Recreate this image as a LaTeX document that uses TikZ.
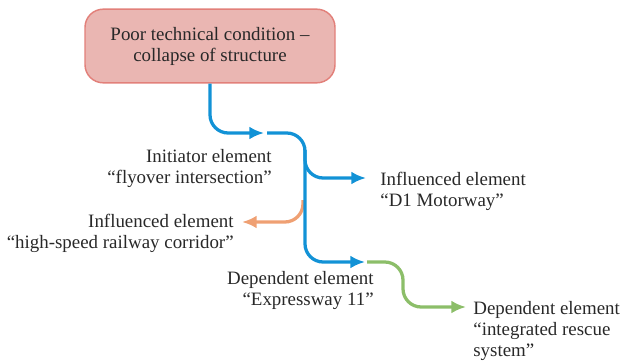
\documentclass[tikz,border=0pt]{standalone}
\usepackage{fontspec}
\setmainfont{Liberation Serif}
\usetikzlibrary{arrows.meta}

\definecolor{flowblue}{RGB}{18,146,214}
\definecolor{flowred}{RGB}{239,160,115}
\definecolor{flowgreen}{RGB}{140,190,105}
\definecolor{causefill}{RGB}{234,182,178}
\definecolor{causeline}{RGB}{226,128,122}
\definecolor{txt}{RGB}{40,40,40}

\begin{document}
\begin{tikzpicture}[x=0.55pt,y=-0.55pt,
    flow/.style={line width=1.8pt, rounded corners=10pt, -{Latex[length=8pt,width=7pt]}},
    lbl/.style={font=\fontsize{10.4}{11.6}\selectfont, text=txt, inner sep=0pt}]

  % page frame (pixels of the reference, y down)
  \useasboundingbox (0,0) rectangle (622,361);

  % cause
  \node[draw=causeline, fill=causefill, line width=0.8pt, rounded corners=10pt,
        minimum width=137.5pt, minimum height=40.5pt, align=center, lbl]
        (cause) at (210,46) {Poor technical condition --\\collapse of structure};

  % element labels
  \node[lbl, align=right, anchor=north east] (initiator) at (272,149)
        {Initiator element\\``flyover intersection''};
  \node[lbl, align=left, anchor=north west] (motorway) at (380,172)
        {Influenced element\\``D1 Motorway''};
  \node[lbl, align=right, anchor=north east] (railway) at (234,214)
        {Influenced element\\``high-speed railway corridor''};
  \node[lbl, align=right, anchor=north east] (expressway) at (374,271)
        {Dependent element\\``Expressway 11''};
  \node[lbl, align=left, anchor=north west] (rescue) at (473,301)
        {Dependent element\\``integrated rescue\\system''};

  % ends of the connectors
  \coordinate (iniIn) at (264,133);
  \coordinate (iniOut) at (267,133);
  \coordinate (trunk) at (305,262);
  \coordinate (split1) at (305,150);
  \coordinate (split2) at (303,200);
  \coordinate (motIn) at (366,178);
  \coordinate (railIn) at (242,222);
  \coordinate (expIn) at (365,262);
  \coordinate (expOut) at (367,262);
  \coordinate (bendG) at (403,307);
  \coordinate (resIn) at (466,307);

  % connectors
  \draw[flow, flowred] (split2) |- (railIn);
  \draw[flow, flowblue] (cause.south) |- (iniIn);
  \draw[flow, flowblue] (iniOut) -| (trunk) -- (expIn);
  \draw[flow, flowblue] (split1) |- (motIn);
  \draw[flow, flowgreen] (expOut) -| (bendG) -- (resIn);

\end{tikzpicture}
\end{document}
